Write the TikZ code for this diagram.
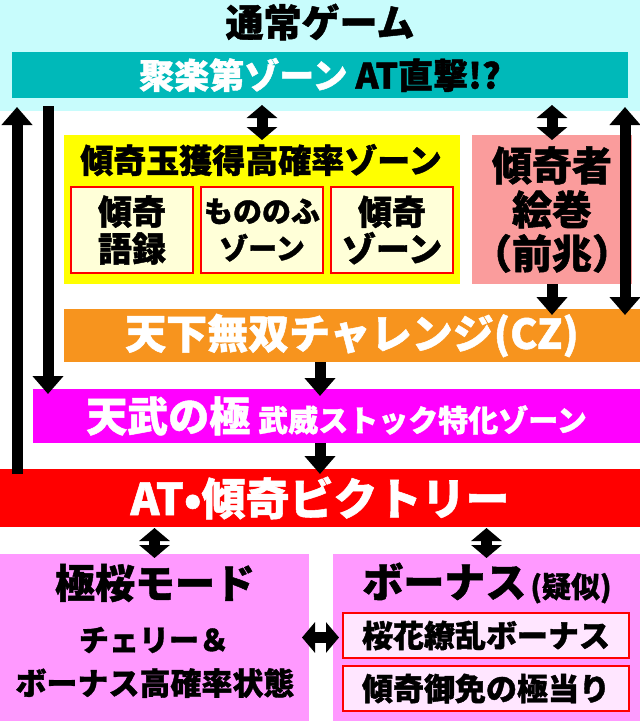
\documentclass[tikz,border=0pt]{standalone}
\usepackage{fontspec}
\setmainfont{Noto Sans CJK JP}[BoldFeatures={FakeBold=1.2}]
\usetikzlibrary{arrows.meta}

\definecolor{normalbg}{HTML}{C8FCFC}
\definecolor{jurakubg}{HTML}{00B9B9}
\definecolor{koukabg}{HTML}{FFFF00}
\definecolor{subbg}{HTML}{FFFFD8}
\definecolor{makibg}{HTML}{FA9C9C}
\definecolor{tenkabg}{HTML}{F7941E}
\definecolor{tenbubg}{HTML}{FF00FF}
\definecolor{victorybg}{HTML}{FF0000}
\definecolor{lowbg}{HTML}{FF99FF}
\definecolor{lowsubbg}{HTML}{FFE6FF}

\newcommand{\fsz}[2]{\fontsize{#1}{#2}\selectfont\bfseries}

\tikzset{
  box/.style={inner sep=0pt, outer sep=0pt, anchor=north west},
  subbox/.style={box, draw=red, line width=1.8pt, align=center},
  fat/.style={line width=11pt, -{Triangle[width=30pt,length=18pt]}},
  fatboth/.style={line width=11pt, {Triangle[width=30pt,length=13pt]}-{Triangle[width=30pt,length=13pt]}},
}

\begin{document}
\begin{tikzpicture}[x=1pt, y=-1pt]
    \useasboundingbox (0,0) rectangle (640,721);
    % ---------------------------------------------
    % normal game
    \node[box, fill=normalbg, minimum width=640, minimum height=111] (normal) at (0,0) {};
    \node[font=\fsz{38}{40}] (normaltitle) at (320,22) {通常ゲーム};
    \node[box, fill=jurakubg, minimum width=616, minimum height=46, font=\fsz{35}{37}]
        (juraku) at (12,52) {\textcolor{white}{聚楽第ゾーン} AT直撃!?};

    % kabuki-dama zone
    \node[box, fill=koukabg, minimum width=396, minimum height=149] (kouka) at (64,135) {};
    \node[font=\fsz{33}{35}] (koukatitle) at (261,160) {傾奇玉獲得高確率ゾーン};
    \node[subbox, fill=subbg, minimum width=122, minimum height=86, font=\fsz{34}{37}]
        (goroku) at (71,187) {傾奇\\語録};
    \node[subbox, fill=subbg, minimum width=122, minimum height=86, font=\fsz{29}{37}]
        (mononofu) at (201,187) {もののふ\\ゾーン};
    \node[subbox, fill=subbg, minimum width=122, minimum height=86, font=\fsz{34}{37}]
        (kabukizone) at (331,187) {傾奇\\ゾーン};

    % zenchou
    \node[box, fill=makibg, minimum width=137, minimum height=149, align=center, font=\fsz{40}{44}]
        (maki) at (472,135) {傾奇者\\絵巻\\（前兆）};

    % CZ, tenbu, AT
    \node[box, fill=tenkabg, minimum width=576, minimum height=53, font=\fsz{41}{43}, text=white]
        (tenka) at (64,309) {天下無双チャレンジ(CZ)};
    \node[box, fill=tenbubg, minimum width=607, minimum height=54, text=white]
        (tenbu) at (33,389) {\fsz{41}{43}天武の極\hspace{8pt}\fsz{30}{32}武威ストック特化ゾーン};
    \node[box, fill=victorybg, minimum width=640, minimum height=58, font=\fsz{44}{46}, text=white]
        (victory) at (0,469) {AT•傾奇ビクトリー};

    % gokuou mode
    \node[box, fill=lowbg, minimum width=309, minimum height=167] (gokuou) at (0,554) {};
    \node[font=\fsz{40}{42}] (gokuoutitle) at (155,583) {極桜モード};
    \node[font=\fsz{30}{32}] (cherry) at (154,640) {チェリー＆};
    \node[font=\fsz{31}{33}] (koukakuritsu) at (155,683) {ボーナス高確率状態};

    % bonus
    \node[box, fill=lowbg, minimum width=307, minimum height=167] (bonus) at (333,554) {};
    \node (bonustitle) at (487,583) {\fsz{41}{43}ボーナス\hspace{4pt}\fsz{29}{31}(疑似)};
    \node[subbox, fill=lowsubbg, minimum width=286, minimum height=45, font=\fsz{31}{33}]
        (ouka) at (343,613) {桜花繚乱ボーナス};
    \node[subbox, fill=lowsubbg, minimum width=286, minimum height=45, font=\fsz{31}{33}]
        (gomen) at (343,666) {傾奇御免の極当り};

    % draw arrows
    \draw[fatboth] ([yshift=-7pt]juraku.south -| kouka.north) -- ([yshift=-5pt]kouka.north);
    \draw[fatboth] ([yshift=-7pt]juraku.south -| maki.north) -- ([yshift=-5pt]maki.north);
    \draw[fat] (maki.south) -- ([yshift=-6pt]tenka.north -| maki.south);
    \draw[line width=11pt, {Triangle[width=30pt,length=18pt]}-{Triangle[width=30pt,length=18pt]}]
        ([xshift=-15pt,yshift=-6pt]tenka.north east)
        -- ([xshift=-15pt,yshift=-9pt]tenka.north east |- juraku.south);
    \draw[fat] ([xshift=15pt,yshift=-8pt]tenbu.north west |- juraku.south)
        -- ([xshift=15pt,yshift=-5pt]tenbu.north west);
    \draw[fat] ([xshift=17pt,yshift=-5pt]victory.north west)
        -- ([xshift=17pt,yshift=-9pt]victory.north west |- juraku.south);
    \draw[fat] ([xshift=-32pt]tenka.south) -- ([yshift=-7pt]tenbu.north -| victory.north);
    \draw[fat] (tenbu.south -| victory.north) -- ([yshift=-5pt]victory.north);
    \draw[fatboth] ([yshift=-1pt]victory.south -| gokuou.north) -- ([yshift=-4pt]gokuou.north);
    \draw[fatboth] ([yshift=-1pt]victory.south -| bonus.north) -- ([yshift=-4pt]bonus.north);
    \draw[fatboth] ([xshift=-7pt]gokuou.east) -- ([xshift=6pt]bonus.west);
\end{tikzpicture}
\end{document}
